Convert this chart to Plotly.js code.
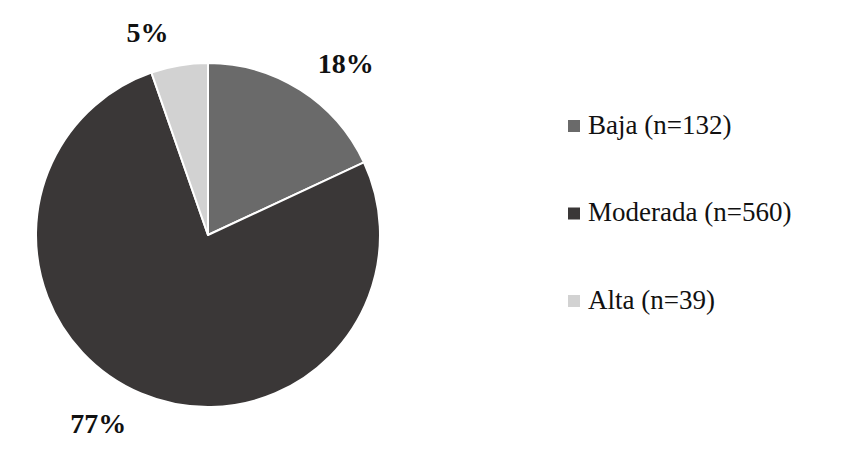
<!DOCTYPE html>
<html>
<head>
<meta charset="utf-8">
<script src="https://cdn.plot.ly/plotly-3.0.1.min.js"></script>
<style>
  html, body { margin: 0; padding: 0; background: #fff; }
  #chart { width: 844px; height: 471px; }
</style>
</head>
<body>
<div id="chart"></div>
<script>
// Nivel de actividad: categorías, tamaños de muestra y colores
const categories = ['Baja', 'Moderada', 'Alta'];
const counts = [132, 560, 39];
const colors = ['#6a6a6a', '#3a3737', '#d2d2d2'];

const serif = 'Liberation Serif';
const legendLabels = categories.map((c, i) => c + ' (n=' + counts[i] + ')');

// Geometría del gráfico en píxeles
const W = 844, H = 471;
const cx = 208, cy = 235, R = 172, Rlabel = 190;
const dom = r => ({
  x: [(cx - r) / W, (cx + r) / W],
  y: [1 - (cy + r) / H, 1 - (cy - r) / H]
});

// Sectores visibles
const pie = {
  type: 'pie',
  labels: legendLabels,
  values: counts,
  sort: false,
  direction: 'clockwise',
  rotation: 0,
  marker: { colors: colors, line: { color: '#ffffff', width: 2 } },
  textinfo: 'none',
  showlegend: false,
  domain: dom(R)
};

// Misma serie en un anillo algo mayor y transparente: sólo aporta los
// porcentajes exteriores, separados un poco del borde del círculo
const pieLabels = {
  type: 'pie',
  labels: legendLabels,
  values: counts,
  sort: false,
  direction: 'clockwise',
  rotation: 0,
  marker: { colors: counts.map(() => 'rgba(0,0,0,0)'), line: { width: 0 } },
  textposition: 'outside',
  texttemplate: '%{percent:.0%}',
  textfont: { family: serif, size: 28, color: '#111111', weight: 'bold' },
  hoverinfo: 'skip',
  showlegend: false,
  domain: dom(Rlabel)
};

// Leyenda dibujada a mano para reproducir el espaciado amplio entre entradas
const legendX = 568 / W;
const legendTop = 1 - 126 / H;
const legendStep = 87.5 / H;
const shapes = [];
const annotations = [];
legendLabels.forEach((lab, i) => {
  const yc = legendTop - i * legendStep;
  shapes.push({
    type: 'rect', xref: 'paper', yref: 'paper',
    x0: legendX, x1: legendX + 12 / W,
    y0: yc - 6 / H, y1: yc + 6 / H,
    fillcolor: colors[i], line: { width: 0 }
  });
  annotations.push({
    xref: 'paper', yref: 'paper', x: legendX + 18 / W, y: yc + 1 / H,
    xanchor: 'left', yanchor: 'middle', showarrow: false,
    text: lab,
    font: { family: serif, size: 27, color: '#111111' }
  });
});

const layout = {
  width: W, height: H,
  margin: { l: 0, r: 0, t: 0, b: 0 },
  paper_bgcolor: '#ffffff',
  plot_bgcolor: '#ffffff',
  font: { family: serif },
  showlegend: false,
  shapes: shapes,
  annotations: annotations
};

Plotly.newPlot('chart', [pie, pieLabels], layout, { displayModeBar: false, staticPlot: true });
</script>
</body>
</html>
